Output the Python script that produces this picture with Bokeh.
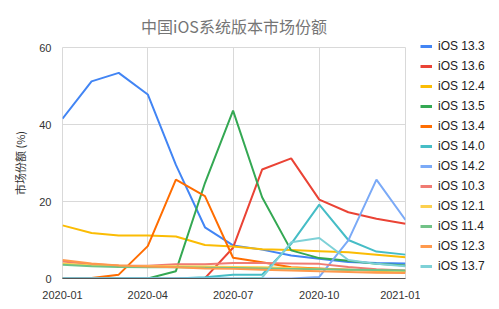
import pandas as pd
from bokeh.plotting import figure
from bokeh.layouts import row, column
from bokeh.models import FixedTicker, DatetimeTickFormatter, Range1d, Legend, LegendItem
from bokeh.embed import file_html
from bokeh.resources import INLINE

title_text = "中国iOS系统版本市场份额"
y_label = "市场份额 (%)"
months = ["2020-01-01", "2020-02-01", "2020-03-01", "2020-04-01", "2020-05-01", "2020-06-01",
          "2020-07-01", "2020-08-01", "2020-09-01", "2020-10-01", "2020-11-01", "2020-12-01",
          "2021-01-01"]
x_ticks = ["2020-01-01", "2020-04-01", "2020-07-01", "2020-10-01", "2021-01-01"]
y_ticks = [0, 20, 40, 60]

series_names = ["iOS 13.3", "iOS 13.6", "iOS 12.4", "iOS 13.5", "iOS 13.4", "iOS 14.0",
                "iOS 14.2", "iOS 10.3", "iOS 12.1", "iOS 11.4", "iOS 12.3", "iOS 13.7"]
ios133 = [41.5, 51.2, 53.4, 47.8, 29.5, 13.3, 8.6, 7.5, 6.0, 5.1, 4.3, 4.0, 3.9]
ios136 = [0, 0, 0, 0, 0, 0.1, 8.0, 28.3, 31.2, 20.5, 17.2, 15.5, 14.2]
ios124 = [13.8, 11.8, 11.2, 11.2, 10.9, 8.7, 8.3, 7.6, 7.4, 7.1, 6.8, 6.2, 5.5]
ios135 = [0, 0, 0, 0, 1.9, 24.8, 43.6, 21.1, 7.3, 5.3, 4.6, 3.8, 3.4]
ios134 = [0, 0.1, 1.0, 8.4, 25.7, 21.4, 5.4, 4.2, 2.9, 2.6, 2.3, 2.0, 1.8]
ios140 = [0, 0, 0, 0, 0, 0.3, 1.0, 1.0, 9.0, 19.2, 10.0, 7.0, 6.2]
ios142 = [0, 0, 0, 0, 0, 0, 0, 0, 0, 0.4, 9.9, 25.7, 15.2]
ios103 = [4.4, 3.7, 3.4, 3.3, 3.7, 3.7, 4.0, 4.0, 3.9, 3.8, 3.0, 2.4, 2.1]
ios121 = [3.9, 3.4, 3.3, 3.2, 3.2, 3.1, 3.0, 2.9, 2.7, 2.5, 2.3, 2.1, 1.9]
ios114 = [3.6, 3.2, 3.0, 2.9, 2.9, 2.8, 2.7, 2.6, 2.5, 2.4, 2.3, 2.2, 2.1]
ios123 = [4.8, 3.9, 3.4, 3.1, 2.9, 2.6, 2.5, 2.3, 2.1, 1.9, 1.7, 1.5, 1.4]
ios137 = [0, 0, 0, 0, 0, 0, 0, 0.2, 9.4, 10.5, 4.8, 3.8, 3.2]
colors = ["#4285f4", "#ea4335", "#fbbc04", "#34a853", "#ff6d01", "#46bdc6",
          "#7baaf7", "#f07b72", "#fcd04f", "#71c287", "#ff994d", "#7ed1d7"]

all_series = [ios133, ios136, ios124, ios135, ios134, ios140,
              ios142, ios103, ios121, ios114, ios123, ios137]

x = pd.to_datetime(months)
tick_ms = [pd.Timestamp(t).value // 10**6 for t in x_ticks]

p = figure(width=420, height=309, x_axis_type="datetime", output_backend="svg",
           toolbar_location=None,
           x_range=Range1d(pd.Timestamp("2020-01-01"), pd.Timestamp("2021-01-01")),
           y_range=Range1d(0, 60),
           min_border_left=62, min_border_right=15, min_border_top=47, min_border_bottom=31)

p.title.text = title_text
p.title.align = "center"
p.title.offset = 16
p.title.standoff = 19
p.title.text_font = "Noto Sans CJK SC"
p.title.text_font_size = "16px"
p.title.text_font_style = "normal"
p.title.text_color = "#757575"

font = "Liberation Sans, Noto Sans CJK SC"
grid_color = "#d9d9d9"
p.outline_line_color = grid_color
p.xgrid.ticker = FixedTicker(ticks=tick_ms)
p.ygrid.ticker = FixedTicker(ticks=y_ticks)
p.xgrid.grid_line_color = grid_color
p.ygrid.grid_line_color = grid_color

p.xaxis.ticker = FixedTicker(ticks=tick_ms)
p.xaxis.formatter = DatetimeTickFormatter(days="%Y-%m", months="%Y-%m", years="%Y-%m")
p.yaxis.ticker = FixedTicker(ticks=y_ticks)
for ax in (p.xaxis[0], p.yaxis[0]):
    ax.major_tick_line_color = None
    ax.minor_tick_line_color = None
    ax.major_label_text_font = font
    ax.major_label_text_font_size = "11px"
    ax.major_label_text_color = "#333333"
p.xaxis.axis_line_color = "#555555"
p.yaxis.axis_line_color = None
p.xaxis.major_label_standoff = 6
p.yaxis.major_label_standoff = 5
p.yaxis.axis_label = y_label
p.yaxis.axis_label_text_font = "Noto Sans CJK SC"
p.yaxis.axis_label_text_font_size = "11px"
p.yaxis.axis_label_text_font_style = "normal"
p.yaxis.axis_label_text_color = "#333333"
p.yaxis.axis_label_standoff = 8

for vals, c in zip(all_series, colors):
    p.line(x, vals, line_color=c, line_width=2)

# legend panel as a separate small figure (its own ranges keep the series out of view)
lg = figure(width=79, height=309, output_backend="svg", toolbar_location=None,
            x_range=Range1d(-2, -1), y_range=Range1d(-2, -1),
            x_axis_location=None, y_axis_location=None,
            min_border_left=0, min_border_right=0, min_border_top=36, min_border_bottom=0)
lg.title.visible = False
lg.outline_line_color = None
lg.xgrid.visible = False
lg.ygrid.visible = False
items = []
for name, vals, c in zip(series_names, all_series, colors):
    r = lg.line(list(range(len(vals))), vals, line_color=c, line_width=3)
    items.append(LegendItem(label=name, renderers=[r]))
legend = Legend(items=items, location="top_left", glyph_width=12, glyph_height=20,
                label_height=20, spacing=0, padding=0, margin=0, label_standoff=6,
                label_text_font=font, label_text_font_size="12px",
                label_text_color="#222222", border_line_color=None,
                background_fill_alpha=0)
lg.add_layout(legend, "center")

layout = row(p, column(lg, spacing=0), spacing=0)
open("out.html", "w").write(file_html(layout, INLINE))
